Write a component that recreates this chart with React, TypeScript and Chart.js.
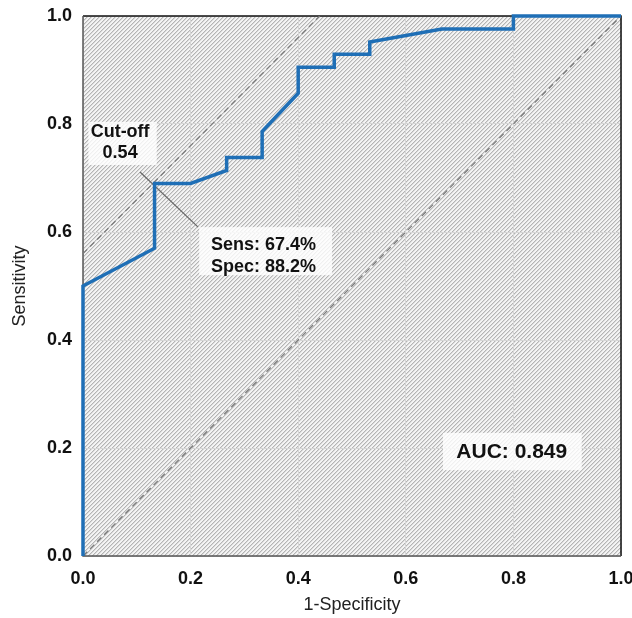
import React, { useEffect, useRef } from "react";
import { Chart, registerables } from "chart.js";

Chart.register(...registerables);

// ROC curve (1-Specificity vs Sensitivity)
const rocFpr = [0, 0, 0.133, 0.133, 0.2, 0.267, 0.267, 0.333, 0.333, 0.4, 0.4, 0.467, 0.467, 0.533, 0.533, 0.667, 0.8, 0.8, 1];
const rocTpr = [0, 0.5, 0.57, 0.69, 0.69, 0.714, 0.738, 0.738, 0.786, 0.857, 0.905, 0.905, 0.929, 0.929, 0.952, 0.976, 0.976, 1, 1];

// chance diagonal
const chanceX = [0, 1];
const chanceY = [0, 1];

// parallel line through the cut-off point
const tangentX = [0, 0.44];
const tangentY = [0.56, 1];

// leader line from cut-off label to sens/spec box
const leaderX = [0.106, 0.214];
const leaderY = [0.711, 0.609];

const tickValues = [0, 0.2, 0.4, 0.6, 0.8, 1.0];
const xTitle = "1-Specificity";
const yTitle = "Sensitivity";

const cutoffLines = ["Cut-off", "0.54"];
const sensSpecLines = ["Sens: 67.4%", "Spec: 88.2%"];
const aucLines = ["AUC: 0.849"];

const FONT = "'Liberation Sans', Arial, sans-serif";

type Note = {
  lines: string[];
  box: [number, number, number, number]; // x0, y0(top), x1, y1(bottom) in data units
  align: "left" | "center";
  tx: number;
  ty: number[];
  size: number;
};

const notes: Note[] = [
  { lines: cutoffLines, box: [0.01, 0.804, 0.137, 0.724], align: "center", tx: 0.069, ty: [0.785, 0.746], size: 18 },
  { lines: sensSpecLines, box: [0.216, 0.609, 0.463, 0.52], align: "left", tx: 0.238, ty: [0.575, 0.535], size: 18 },
  { lines: aucLines, box: [0.669, 0.228, 0.927, 0.159], align: "center", tx: 0.797, ty: [0.193], size: 21 },
];

const toPts = (xs: number[], ys: number[]) => xs.map((x, i) => ({ x, y: ys[i] }));

const hatchPlugin = {
  id: "hatch",
  beforeDraw(chart: any) {
    const { ctx, chartArea } = chart;
    const { left, top, right, bottom } = chartArea;
    const p = document.createElement("canvas");
    p.width = 4;
    p.height = 4;
    const pc = p.getContext("2d")!;
    pc.fillStyle = "#f4f4f4";
    pc.fillRect(0, 0, 4, 4);
    for (let i = 0; i < 4; i++) {
      pc.fillStyle = "#b4b4b4";
      pc.fillRect(3 - i, i, 1, 1);
      pc.fillStyle = "#dadada";
      pc.fillRect((4 - i) % 4, i, 1, 1);
    }
    const pat = ctx.createPattern(p, "repeat");
    ctx.save();
    ctx.fillStyle = pat;
    ctx.fillRect(left, top, right - left, bottom - top);
    ctx.restore();
  },
  beforeDatasetsDraw(chart: any) {
    const { ctx, chartArea } = chart;
    const { left, top, right, bottom } = chartArea;
    ctx.save();
    ctx.lineWidth = 1.5;
    ctx.strokeStyle = "#111";
    ctx.beginPath();
    ctx.moveTo(left, top);
    ctx.lineTo(right, top);
    ctx.lineTo(right, bottom);
    ctx.stroke();
    ctx.strokeStyle = "#555";
    ctx.beginPath();
    ctx.moveTo(left, top);
    ctx.lineTo(left, bottom);
    ctx.lineTo(right, bottom);
    ctx.stroke();
    ctx.restore();
  },
  afterDatasetsDraw(chart: any) {
    const { ctx } = chart;
    const xs = chart.scales.x;
    const ys = chart.scales.y;
    ctx.save();
    for (const n of notes) {
      const x0 = xs.getPixelForValue(n.box[0]);
      const y0 = ys.getPixelForValue(n.box[1]);
      const x1 = xs.getPixelForValue(n.box[2]);
      const y1 = ys.getPixelForValue(n.box[3]);
      ctx.fillStyle = "rgba(255,255,255,0.8)";
      ctx.fillRect(x0, y0, x1 - x0, y1 - y0);
      ctx.fillStyle = "#111";
      ctx.font = `bold ${n.size}px ${FONT}`;
      ctx.textAlign = n.align;
      ctx.textBaseline = "middle";
      n.lines.forEach((t, i) => {
        ctx.fillText(t, xs.getPixelForValue(n.tx), ys.getPixelForValue(n.ty[i]));
      });
    }
    ctx.restore();
  },
};

export default function App() {
  const ref = useRef<HTMLCanvasElement>(null);

  useEffect(() => {
    document.body.style.margin = "0";
    const chart = new Chart(ref.current!, {
      type: "scatter",
      data: {
        datasets: [
          {
            label: "ROC",
            data: toPts(rocFpr, rocTpr),
            showLine: true,
            borderColor: "#1f6fb6",
            backgroundColor: "#1f6fb6",
            borderWidth: 3.5,
            pointRadius: 0,
            tension: 0,
            clip: false,
            order: 0,
          } as any,
          {
            label: "chance",
            data: toPts(chanceX, chanceY),
            showLine: true,
            borderColor: "#7a7a7a",
            borderWidth: 1.3,
            borderDash: [6, 4],
            pointRadius: 0,
            order: 2,
          },
          {
            label: "tangent",
            data: toPts(tangentX, tangentY),
            showLine: true,
            borderColor: "#7a7a7a",
            borderWidth: 1.3,
            borderDash: [6, 4],
            pointRadius: 0,
            order: 2,
          },
          {
            label: "leader",
            data: toPts(leaderX, leaderY),
            showLine: true,
            borderColor: "#6a6a6a",
            borderWidth: 1.3,
            pointRadius: 0,
            order: 1,
          },
        ],
      },
      options: {
        animation: false,
        responsive: true,
        maintainAspectRatio: false,
        layout: { padding: { top: 16, right: 11, left: 0, bottom: 0 } },
        plugins: { legend: { display: false }, tooltip: { enabled: false } },
        scales: {
          x: {
            type: "linear",
            min: 0,
            max: 1,
            afterFit: (s: any) => {
              s.height = 62;
              s.paddingLeft = 0;
              s.paddingRight = 0;
            },
            afterBuildTicks: (s: any) => {
              s.ticks = tickValues.map((v) => ({ value: v }));
            },
            grid: { color: "#d6d6d6", lineWidth: 1, drawTicks: false },
            border: { display: false },
            ticks: {
              padding: 12,
              color: "#111",
              font: { family: FONT, size: 18, weight: "bold" },
              callback: (v: any) => Number(v).toFixed(1),
            },
            title: {
              display: true,
              text: xTitle,
              color: "#222",
              font: { family: FONT, size: 18 },
              padding: { top: 0, bottom: 2 },
            },
          },
          y: {
            type: "linear",
            min: 0,
            max: 1,
            afterFit: (s: any) => {
              s.width = 83;
              s.paddingTop = 0;
              s.paddingBottom = 0;
            },
            afterBuildTicks: (s: any) => {
              s.ticks = tickValues.map((v) => ({ value: v }));
            },
            grid: { color: "#d6d6d6", lineWidth: 1, drawTicks: false },
            border: { display: false },
            ticks: {
              padding: 11,
              color: "#111",
              font: { family: FONT, size: 18, weight: "bold" },
              callback: (v: any) => Number(v).toFixed(1),
            },
            title: {
              display: true,
              text: yTitle,
              color: "#222",
              font: { family: FONT, size: 18 },
              padding: { top: 9, bottom: 0 },
            },
          },
        },
      },
      plugins: [hatchPlugin],
    });
    return () => chart.destroy();
  }, []);

  return (
    <div style={{ width: 632, height: 618, position: "relative" }}>
      <canvas ref={ref} />
    </div>
  );
}
